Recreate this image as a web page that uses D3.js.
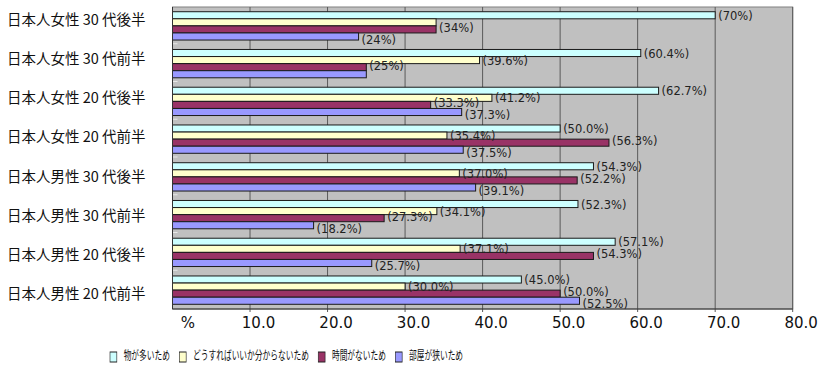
<!DOCTYPE html>
<html lang="ja">
<head>
    <meta charset="UTF-8">
    <title>片付けられない理由</title>
    <style>
        body { margin: 0; background: #fff; }
        svg { display: block; }
        .cat { font-family: "Noto Sans CJK JP", sans-serif; font-size: 14.5px; fill: #111; }
        .val { font-family: "DejaVu Sans", Verdana, sans-serif; font-size: 11.5px; fill: #222; }
        .tick text { font-family: "DejaVu Sans", Verdana, sans-serif; font-size: 15px; fill: #111; }
        .leg { font-family: "Noto Sans CJK JP", sans-serif; font-size: 12.5px; fill: #111; }
    </style>
    <script src="https://d3js.org/d3.v7.min.js"></script>
</head>
<body>
    <div id="chart"></div>
    <script>
        // Data
        const categories = [
            "日本人女性 30 代後半", "日本人女性 30 代前半", "日本人女性 20 代後半", "日本人女性 20 代前半",
            "日本人男性 30 代後半", "日本人男性 30 代前半", "日本人男性 20 代後半", "日本人男性 20 代前半"
        ];
        const seriesNames = ["物が多いため", "どうすればいいか分からないため", "時間がないため", "部屋が狭いため"];
        const monoValues = [70, 60.4, 62.7, 50.0, 54.3, 52.3, 57.1, 45.0];
        const howValues  = [34, 39.6, 41.2, 35.4, 37.0, 34.1, 37.1, 30.0];
        const timeValues = [34, 25, 33.3, 56.3, 52.2, 27.3, 54.3, 50.0];
        const roomValues = [24, 25, 37.3, 37.5, 39.1, 18.2, 25.7, 52.5];
        const monoLabels = ["(70%)", "(60.4%)", "(62.7%)", "(50.0%)", "(54.3%)", "(52.3%)", "(57.1%)", "(45.0%)"];
        const howLabels  = [null, "(39.6%)", "(41.2%)", "(35.4%)", "(37.0%)", "(34.1%)", "(37.1%)", "(30.0%)"];
        const timeLabels = ["(34%)", "(25%)", "(33.3%)", "(56.3%)", "(52.2%)", "(27.3%)", "(54.3%)", "(50.0%)"];
        const roomLabels = ["(24%)", null, "(37.3%)", "(37.5%)", "(39.1%)", "(18.2%)", "(25.7%)", "(52.5%)"];
        const xTicks = [0, 10, 20, 30, 40, 50, 60, 70, 80];

        const colors = ["#ccffff", "#ffffcc", "#993366", "#9999ff"];
        const labelShift = [1, 1, -1, 4];
        const seriesValues = [monoValues, howValues, timeValues, roomValues];
        const seriesLabels = [monoLabels, howLabels, timeLabels, roomLabels];

        const width = 826, height = 384;
        const plot = { left: 172.5, right: 792.7, top: 7, bottom: 309 };

        const svg = d3.select("#chart").append("svg")
            .attr("width", width)
            .attr("height", height);

        const x = d3.scaleLinear().domain([0, 80]).range([plot.left, plot.right]);
        const y = d3.scaleBand().domain(categories).range([plot.top, plot.bottom])
            .paddingInner(0.25).paddingOuter(0.125);
        const ySub = d3.scaleBand().domain(d3.range(4)).range([0, y.bandwidth()]);
        const yLabel = d3.scalePoint().domain(categories).range([21, 295]);

        // plot background
        svg.append("rect")
            .attr("x", plot.left).attr("y", plot.top)
            .attr("width", plot.right - plot.left).attr("height", plot.bottom - plot.top)
            .attr("fill", "#c0c0c0")
            .attr("stroke", "#808080");

        // vertical gridlines
        svg.append("g").selectAll("line")
            .data(xTicks.slice(1))
            .enter().append("line")
            .attr("x1", d => x(d)).attr("x2", d => x(d))
            .attr("y1", plot.top).attr("y2", plot.bottom + 3)
            .attr("stroke", "#5a5a5a");

        // small marks at group boundaries
        svg.append("g").selectAll("line")
            .data(categories.slice(1))
            .enter().append("line")
            .attr("x1", plot.left).attr("x2", plot.left + 5)
            .attr("y1", d => y(d) - y.step() * 0.125 - 1)
            .attr("y2", d => y(d) - y.step() * 0.125 - 1)
            .attr("stroke", "#e8e8e8");

        // bars
        const rows = [];
        categories.forEach((c, i) => {
            seriesValues.forEach((vals, s) => {
                rows.push({ cat: c, s: s, v: vals[i], label: seriesLabels[s][i] });
            });
        });

        svg.append("g").selectAll("rect")
            .data(rows)
            .enter().append("rect")
            .attr("x", x(0))
            .attr("y", d => y(d.cat) + ySub(d.s))
            .attr("width", d => x(d.v) - x(0))
            .attr("height", ySub.bandwidth())
            .attr("fill", d => colors[d.s])
            .attr("stroke", "#1a1a1a")
            .attr("stroke-width", 1);

        // value labels
        svg.append("g").selectAll("text")
            .data(rows.filter(d => d.label))
            .enter().append("text")
            .attr("class", "val")
            .attr("x", d => x(d.v) + 3)
            .attr("y", d => y(d.cat) + ySub(d.s) + ySub.bandwidth() / 2 + labelShift[d.s])
            .attr("dominant-baseline", "middle")
            .text(d => d.label);

        // axes lines
        svg.append("line")
            .attr("x1", plot.left).attr("x2", plot.left)
            .attr("y1", plot.top).attr("y2", plot.bottom)
            .attr("stroke", "#333");
        svg.append("line")
            .attr("x1", plot.left).attr("x2", plot.right)
            .attr("y1", plot.bottom).attr("y2", plot.bottom)
            .attr("stroke", "#333");

        // x axis labels
        const xAxis = svg.append("g")
            .attr("transform", `translate(0,${plot.bottom})`)
            .call(d3.axisBottom(x).tickValues(xTicks)
                .tickFormat(d => d === 0 ? "%" : d3.format(".1f")(d))
                .tickSize(0).tickPadding(8));
        xAxis.select(".domain").remove();
        xAxis.selectAll(".tick text").attr("dx", d => d === 0 ? 15 : 8);

        // category labels
        svg.append("g").selectAll("text")
            .data(categories)
            .enter().append("text")
            .attr("class", "cat")
            .attr("x", 7)
            .attr("y", d => yLabel(d))
            .attr("dominant-baseline", "middle")
            .text(d => d);

        // legend (horizontally condensed, like the source image)
        const legend = svg.append("g")
            .attr("transform", "translate(110,357) scale(0.62,1)");
        let lx = 0;
        seriesNames.forEach((name, s) => {
            const item = legend.append("g").attr("transform", `translate(${lx},0)`);
            item.append("rect")
                .attr("x", 0).attr("y", -5)
                .attr("width", 11).attr("height", 10)
                .attr("fill", colors[s])
                .attr("stroke", "#222");
            const t = item.append("text")
                .attr("class", "leg")
                .attr("x", 22).attr("y", 0)
                .attr("dominant-baseline", "middle")
                .text(name);
            lx += 22 + t.node().getComputedTextLength() + 15;
        });
    </script>
</body>
</html>
